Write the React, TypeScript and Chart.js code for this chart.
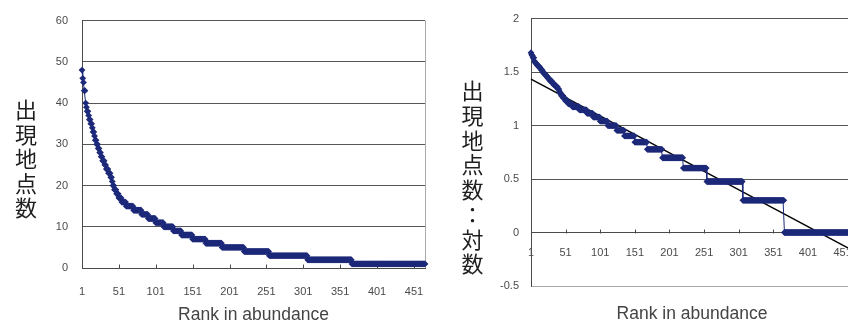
import { useEffect, useRef } from "react";
import { Chart, registerables } from "chart.js";

Chart.register(...registerables);

// Sites per species, stored as runs of equal values in rank order:
// the count and the last rank that still has that count.
const SITE_LEVELS = [
  48, 46, 45, 43, 40, 39, 38, 37, 36, 35, 34, 33, 32, 31, 30, 29, 28, 27, 26, 25, 24, 23,
  22, 21, 20, 19, 18, 17, 16, 15, 14, 13, 12, 11, 10, 9, 8, 7, 6, 5, 4, 3, 2, 1,
];
const LEVEL_LAST_RANK = [
  1, 2, 3, 5, 6, 7, 9, 10, 12, 14, 15, 17, 18, 20, 22, 24, 26, 28, 31, 33, 36, 39,
  41, 42, 44, 47, 50, 54, 60, 70, 81, 90, 100, 111, 124, 135, 150, 168, 190, 220, 254, 306, 366, 466,
];

const RANK_TICKS = [1, 51, 101, 151, 201, 251, 301, 351, 401, 451];
const COUNT_TICKS = [0, 10, 20, 30, 40, 50, 60];
const LOG_TICKS = [-0.5, 0, 0.5, 1, 1.5, 2];

const COUNT_TITLE = "出現地点数";
const LOG_TITLE = "出現地点数：対数";
const RANK_TITLE = "Rank in abundance";

const NAVY = "#1d2979";
const GRID = "#555555";
const AXIS = "#4a4a4a";
const FRAME = "#a8a8a8";
const TICK_TEXT = "#4a4a4a";
const TICK_FONT = { family: "'Liberation Sans', Arial, sans-serif", size: 11 };

// one value per rank
const siteCounts: number[] = [];
SITE_LEVELS.forEach((level, i) => {
  while (siteCounts.length < LEVEL_LAST_RANK[i]) siteCounts.push(level);
});
const lastRank = siteCounts.length;
const countPoints = siteCounts.map((v, i) => ({ x: i + 1, y: v }));
const logPoints = siteCounts.map((v, i) => ({ x: i + 1, y: Math.log10(v) }));

// ordinary least-squares line through the log counts
function linearFit(pts: { x: number; y: number }[]) {
  const n = pts.length;
  let sx = 0, sy = 0, sxx = 0, sxy = 0;
  for (const p of pts) {
    sx += p.x; sy += p.y; sxx += p.x * p.x; sxy += p.x * p.y;
  }
  const slope = (n * sxy - sx * sy) / (n * sxx - sx * sx);
  const intercept = (sy - slope * sx) / n;
  return { slope, intercept };
}
const fit = linearFit(logPoints);
const trendPoints = [1, lastRank].map((x) => ({ x, y: fit.intercept + fit.slope * x }));

type Decor = {
  title: string;
  titleX: number;
  titleY: number;
  pitch: number;
  axisTitleY: number;
  tickAt: number;
  rightFrame: boolean;
};

function decorPlugin(d: Decor) {
  return {
    id: "decor",
    beforeDatasetsDraw(chart: any) {
      const { ctx, chartArea: a, scales } = chart;
      ctx.save();
      ctx.lineWidth = 1;
      if (d.rightFrame) {
        ctx.strokeStyle = FRAME;
        ctx.beginPath();
        const xr = Math.round(a.right) + 0.5;
        ctx.moveTo(xr, a.top);
        ctx.lineTo(xr, a.bottom);
        ctx.stroke();
      }
      // short tick marks pointing into the plot
      const y0 = Math.round(scales.y.getPixelForValue(d.tickAt)) + 0.5;
      ctx.strokeStyle = AXIS;
      ctx.beginPath();
      for (const t of RANK_TICKS.slice(1)) {
        const x = Math.round(scales.x.getPixelForValue(t)) + 0.5;
        ctx.moveTo(x, y0);
        ctx.lineTo(x, y0 - 4);
      }
      ctx.stroke();
      ctx.restore();
    },
    afterDraw(chart: any) {
      const { ctx, chartArea: a } = chart;
      ctx.save();
      ctx.fillStyle = "#1e1e1e";
      ctx.textAlign = "center";
      ctx.textBaseline = "middle";
      ctx.font = "22px 'Noto Sans CJK JP', sans-serif";
      Array.from(d.title).forEach((ch, i) => {
        ctx.fillText(ch, d.titleX, d.titleY + i * d.pitch);
      });
      ctx.fillStyle = "#444444";
      ctx.font = "17.5px 'Liberation Sans', Arial, sans-serif";
      ctx.fillText(RANK_TITLE, (a.left + a.right) / 2, d.axisTitleY);
      ctx.restore();
    },
  };
}

const fixedTicks = (values: number[]) => (scale: any) => {
  scale.ticks = values.map((value) => ({ value }));
};

// keep the rank axis from reserving room for its end labels
const noSidePadding = (height?: number) => (s: any) => {
  s.paddingLeft = 0;
  s.paddingRight = 0;
  if (height !== undefined) s.height = height;
};

const seriesStyle = {
  borderColor: NAVY,
  borderWidth: 1,
  pointStyle: "rectRot",
  pointRadius: 3.4,
  pointBackgroundColor: NAVY,
  pointBorderColor: NAVY,
  pointBorderWidth: 0,
  clip: false,
};

function countConfig(): any {
  return {
    type: "line",
    data: {
      datasets: [{ data: countPoints, ...seriesStyle }],
    },
    options: {
      responsive: false,
      animation: false,
      devicePixelRatio: 1,
      layout: { padding: { top: 19, right: 5, bottom: 0, left: 0 } },
      plugins: { legend: { display: false }, tooltip: { enabled: false } },
      scales: {
        x: {
          type: "linear",
          min: 1,
          max: lastRank,
          afterBuildTicks: fixedTicks(RANK_TICKS),
          afterFit: noSidePadding(58),
          grid: { display: false, drawTicks: false },
          border: { display: true, color: AXIS, width: 1 },
          ticks: {
            autoSkip: false, maxRotation: 0, padding: 17,
            color: TICK_TEXT, font: TICK_FONT,
            callback: (v: number) => String(v),
          },
        },
        y: {
          type: "linear",
          min: 0,
          max: 60,
          afterBuildTicks: fixedTicks(COUNT_TICKS),
          afterFit: (s: any) => { s.width = 82; },
          grid: { color: GRID, lineWidth: 1, drawTicks: false },
          border: { display: true, color: AXIS, width: 1 },
          ticks: {
            padding: 14, color: TICK_TEXT, font: TICK_FONT,
            callback: (v: number) => String(v),
          },
        },
      },
    },
    plugins: [
      decorPlugin({
        title: COUNT_TITLE, titleX: 26, titleY: 110, pitch: 24.5,
        axisTitleY: 315, tickAt: 0, rightFrame: true,
      }),
    ],
  };
}

function logConfig(): any {
  return {
    type: "line",
    data: {
      datasets: [
        { data: logPoints, ...seriesStyle },
        {
          data: trendPoints,
          borderColor: "#000000",
          borderWidth: 1.4,
          pointRadius: 0,
          clip: false,
        },
      ],
    },
    options: {
      responsive: false,
      animation: false,
      devicePixelRatio: 1,
      layout: { padding: { top: 16, right: 7, bottom: 40, left: 0 } },
      plugins: { legend: { display: false }, tooltip: { enabled: false } },
      scales: {
        x: {
          type: "linear",
          position: { y: 0 },
          min: 1,
          max: lastRank,
          afterBuildTicks: fixedTicks(RANK_TICKS),
          afterFit: noSidePadding(),
          grid: { display: false, drawTicks: false },
          border: { display: true, color: AXIS, width: 1 },
          ticks: {
            autoSkip: false, maxRotation: 0, padding: 14,
            color: TICK_TEXT, font: TICK_FONT,
            callback: (v: number) => String(v),
          },
        },
        y: {
          type: "linear",
          min: -0.5,
          max: 2,
          afterBuildTicks: fixedTicks(LOG_TICKS),
          afterFit: (s: any) => { s.width = 101; },
          grid: {
            color: (c: any) => (c.tick && c.tick.value === -0.5 ? FRAME : GRID),
            lineWidth: 1,
            drawTicks: false,
          },
          border: { display: true, color: AXIS, width: 1 },
          ticks: {
            padding: 12, color: TICK_TEXT, font: TICK_FONT,
            callback: (v: number) => String(v),
          },
        },
      },
    },
    plugins: [
      decorPlugin({
        title: LOG_TITLE, titleX: 42.5, titleY: 91, pitch: 24.7,
        axisTitleY: 314, tickAt: 0, rightFrame: false,
      }),
    ],
  };
}

export default function App() {
  const leftRef = useRef<HTMLCanvasElement>(null);
  const rightRef = useRef<HTMLCanvasElement>(null);

  useEffect(() => {
    const left = new Chart(leftRef.current as HTMLCanvasElement, countConfig());
    const right = new Chart(rightRef.current as HTMLCanvasElement, logConfig());
    return () => {
      left.destroy();
      right.destroy();
    };
  }, []);

  return (
    <div
      style={{
        position: "fixed", left: 0, top: 0, width: 848, height: 326,
        overflow: "hidden", background: "#ffffff",
      }}
    >
      <canvas
        ref={leftRef}
        width={430}
        height={326}
        style={{ position: "absolute", left: 0, top: 0, width: 430, height: 326 }}
      />
      <canvas
        ref={rightRef}
        width={430}
        height={326}
        style={{ position: "absolute", left: 430, top: 0, width: 430, height: 326 }}
      />
    </div>
  );
}
